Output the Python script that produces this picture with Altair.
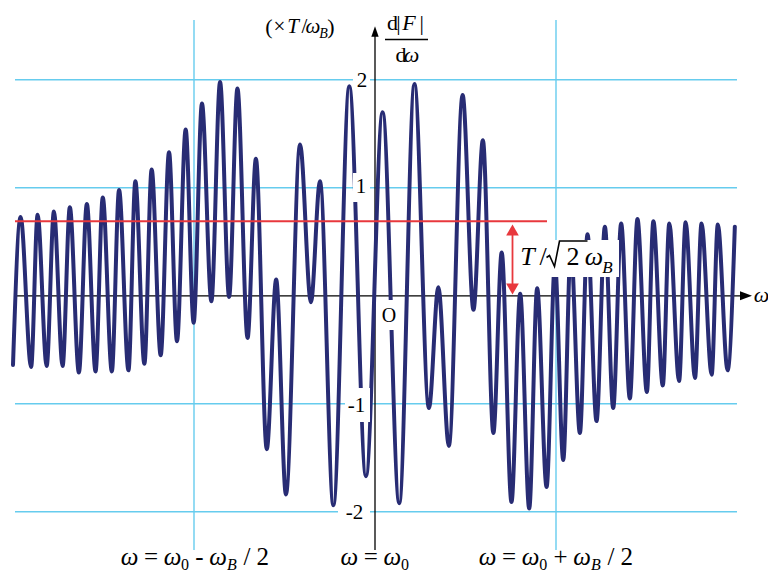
import altair as alt
import pandas as pd

# ---------------- data ----------------
# x: (omega - omega0) / omega_B ; y: d|F|/d omega in units of T/omega_B (successive extrema)
omega = [-1.000, -0.979, -0.950, -0.932, -0.907, -0.887, -0.863, -0.843, -0.818, -0.796,
         -0.772, -0.752, -0.727, -0.707, -0.681, -0.662, -0.637, -0.617, -0.592, -0.569,
         -0.547, -0.523, -0.501, -0.478, -0.452, -0.428, -0.403, -0.380, -0.352, -0.329,
         -0.299, -0.273, -0.246, -0.207, -0.177, -0.152, -0.115, -0.071, -0.025, 0.021,
         0.067, 0.109, 0.149, 0.175, 0.204, 0.242, 0.272, 0.298, 0.327, 0.350,
         0.377, 0.401, 0.426, 0.448, 0.474, 0.497, 0.520, 0.541, 0.566, 0.587,
         0.612, 0.635, 0.658, 0.680, 0.704, 0.725, 0.751, 0.769, 0.795, 0.813,
         0.840, 0.858, 0.884, 0.902, 0.930, 0.947, 0.974, 0.994]
dF = [-0.64, 0.73, -0.66, 0.75, -0.65, 0.78, -0.65, 0.82, -0.71, 0.85,
      -0.70, 0.91, -0.70, 0.98, -0.69, 1.06, -0.63, 1.17, -0.55, 1.33,
      -0.42, 1.54, -0.25, 1.78, -0.05, 1.98, -0.01, 1.92, -0.39, 1.27,
      -1.42, 0.15, -1.84, 1.40, -0.06, 1.06, -1.94, 1.94, -1.67, 1.70,
      -1.92, 1.96, -1.04, 0.08, -1.39, 1.86, -0.13, 1.44, -1.27, 0.40,
      -1.91, 0.02, -1.97, 0.07, -1.77, 0.30, -1.52, 0.45, -1.27, 0.57,
      -1.16, 0.64, -1.04, 0.67, -0.95, 0.71, -0.89, 0.69, -0.83, 0.67,
      -0.79, 0.68, -0.76, 0.67, -0.73, 0.66, -0.69, 0.64]

grid_y = [-2, -1, 1, 2]
grid_x = [-0.5, 0.5]
ref_level = 0.69          # T / (sqrt(2) omega_B)
tick_text = ["2", "1", "-1", "-2"]

# ---------------- layout helpers (page pixels -> data units) ----------------
X0, SX, Y0, SY = 375.0, 362.0, 295.8, 108.0
W, H = 760, 566
def ux(px):
    return (px - X0) / SX
def vy(py):
    return (Y0 - py) / SY

xs = alt.Scale(domain=[ux(8), ux(8 + W)], nice=False, zero=False)
ys = alt.Scale(domain=[vy(8 + H), vy(8)], nice=False, zero=False)
X = lambda f="x": alt.X(f"{f}:Q", scale=xs, axis=None)
Y = lambda f="y": alt.Y(f"{f}:Q", scale=ys, axis=None)

CYAN = "#66ccee"
NAVY = "#282c74"
RED = "#e8383d"
FONT = "Liberation Serif"

# grid lines
hgrid = alt.Chart(pd.DataFrame({"y": grid_y, "x": ux(15), "x2": ux(737)})).mark_rule(
    color=CYAN, strokeWidth=1.4).encode(y=Y(), x=X(), x2="x2:Q")
vgrid = alt.Chart(pd.DataFrame({"x": grid_x, "y": vy(20), "y2": vy(550)})).mark_rule(
    color=CYAN, strokeWidth=1.4).encode(x=X(), y=Y(), y2="y2:Q")

# axes
xaxis = alt.Chart(pd.DataFrame({"y": [0.0], "x": [ux(15)], "x2": [ux(742)]})).mark_rule(
    color="black", strokeWidth=1.3).encode(y=Y(), x=X(), x2="x2:Q")
yaxis = alt.Chart(pd.DataFrame({"x": [0.0], "y": [vy(550)], "y2": [vy(35)]})).mark_rule(
    color="black", strokeWidth=1.3).encode(x=X(), y=Y(), y2="y2:Q")
xhead = alt.Chart(pd.DataFrame({"x": [ux(746)], "y": [0.0]})).mark_point(
    shape="M-1,-0.75L1,0L-1,0.75Z", filled=True, size=144, color="black", opacity=1,
    strokeWidth=0).encode(x=X(), y=Y())
yhead = alt.Chart(pd.DataFrame({"x": [0.0], "y": [vy(31.5)]})).mark_point(
    shape="M-0.7,1L0,-1L0.7,1Z", filled=True, size=110, color="black", opacity=1,
    strokeWidth=0).encode(x=X(), y=Y())

# curve
curve = alt.Chart(pd.DataFrame({"x": omega, "y": dF})).mark_line(
    color=NAVY, strokeWidth=4, interpolate="monotone", strokeCap="round",
    strokeJoin="round").encode(x=X(), y=Y())

# red reference line and arrow
redline = alt.Chart(pd.DataFrame({"y": [ref_level], "x": [ux(15)], "x2": [ux(547)]})).mark_rule(
    color=RED, strokeWidth=2).encode(y=Y(), x=X(), x2="x2:Q")
ax = ux(512.5)
shaft = alt.Chart(pd.DataFrame({"x": [ax], "y": [vy(232)], "y2": [vy(288)]})).mark_rule(
    color=RED, strokeWidth=1.8).encode(x=X(), y=Y(), y2="y2:Q")
headup = alt.Chart(pd.DataFrame({"x": [ax], "y": [vy(230)]})).mark_point(
    shape="M-1,0.87L0,-0.87L1,0.87Z", filled=True, size=160, color=RED, opacity=1,
    strokeWidth=0).encode(x=X(), y=Y())
headdn = alt.Chart(pd.DataFrame({"x": [ax], "y": [vy(289)]})).mark_point(
    shape="M-1,-0.87L0,0.87L1,-0.87Z", filled=True, size=160, color=RED, opacity=1,
    strokeWidth=0).encode(x=X(), y=Y())

# white boxes behind labels
boxes_px = [(353, 370, 65, 95), (353, 370, 173, 202), (345, 370, 388, 422),
            (338, 370, 496, 527), (380, 399, 300, 330), (518, 619, 240, 277)]
boxes = pd.DataFrame({"x": [ux(b[0]) for b in boxes_px], "x2": [ux(b[1]) for b in boxes_px],
                      "y": [vy(b[2]) for b in boxes_px], "y2": [vy(b[3]) for b in boxes_px]})
white = alt.Chart(boxes).mark_rect(color="white").encode(x=X(), x2="x2:Q", y=Y(), y2="y2:Q")

# fraction bar
mrules = alt.Chart(pd.DataFrame({"y": [vy(39.5)], "x": [ux(385)], "x2": [ux(428)]})).mark_rule(
    color="black", strokeWidth=1.3).encode(y=Y(), x=X(), x2="x2:Q")

# radical sign drawn as a path
rad_px = [(546.5, 257.5), (549.5, 255.5), (554.5, 266.5), (559.5, 241), (587.5, 241)]
radical = alt.Chart(pd.DataFrame({"x": [ux(p[0]) for p in rad_px], "y": [vy(p[1]) for p in rad_px],
                                  "o": list(range(len(rad_px)))})).mark_line(
    color="black", strokeWidth=1.6, strokeJoin="miter").encode(x=X(), y=Y(), order="o:O")

# text tokens: (text, centre x px, baseline y px, size, italic)
MB, SB = 564.5, 570.0   # bottom label baselines (main, subscript)
toks = [
    ("(", 269, 34, 22, 0), ("×", 279.5, 33, 21, 0), ("T", 293, 33, 21, 1), ("/", 304.5, 33, 21, 0),
    ("ω", 313, 33, 21, 1), ("B", 323.5, 38, 14, 1), (")", 331, 34, 22, 0),
    ("d", 392.5, 30, 22, 0), ("|", 398.5, 30, 22, 0), ("F", 409, 30, 22, 1), ("|", 421.7, 30, 22, 0),
    ("d", 401, 61.5, 22, 0), ("ω", 411.5, 61.5, 22, 1),
    ("ω", 761.5, 302, 22, 1), ("O", 389, 322, 20, 0),
    (tick_text[0], 362, 86.5, 21, 0), (tick_text[1], 361, 192.5, 21, 0),
    (tick_text[2], 356.5, 411.5, 21, 0), (tick_text[3], 354.5, 518.5, 21, 0),
    ("T", 527.5, 265, 26, 1), ("/", 543, 265, 26, 0), ("2", 573, 265, 26, 0),
    ("ω", 594, 265, 26, 1), ("B", 607.5, 273, 17, 1),
    # bottom labels
    ("ω", 129.5, MB, 25, 1), ("=", 151, MB, 25, 0), ("ω", 172.5, MB, 25, 1), ("0", 185, SB, 16, 0),
    ("-", 199.5, MB, 25, 0), ("ω", 218, MB, 25, 1), ("B", 232, SB, 16, 1), ("/", 247, MB, 25, 0),
    ("2", 262.75, MB, 25, 0),
    ("ω", 349.25, MB, 25, 1), ("=", 370.75, MB, 25, 0), ("ω", 392.25, MB, 25, 1), ("0", 405, SB, 16, 0),
    ("ω", 487.5, MB, 25, 1), ("=", 509, MB, 25, 0), ("ω", 530.5, MB, 25, 1), ("0", 543.25, SB, 16, 0),
    ("+", 560.5, MB, 25, 0), ("ω", 582, MB, 25, 1), ("B", 596, SB, 16, 1), ("/", 611, MB, 25, 0),
    ("2", 626.75, MB, 25, 0),
]
tok = pd.DataFrame({"t": [t[0] for t in toks], "x": [ux(t[1]) for t in toks],
                    "y": [vy(t[2]) for t in toks], "s": [t[3] for t in toks],
                    "it": [t[4] for t in toks]})
tbase = alt.Chart(tok)
up_text = tbase.transform_filter("datum.it == 0").mark_text(
    font=FONT, align="center", baseline="alphabetic", color="black").encode(
    x=X(), y=Y(), text="t:N", size=alt.Size("s:Q", scale=None, legend=None))
it_text = tbase.transform_filter("datum.it == 1").mark_text(
    font=FONT, fontStyle="italic", align="center", baseline="alphabetic", color="black").encode(
    x=X(), y=Y(), text="t:N", size=alt.Size("s:Q", scale=None, legend=None))

chart = alt.layer(
    hgrid, vgrid, xaxis, yaxis, xhead, yhead, curve, redline, white, mrules, radical,
    up_text, it_text, shaft, headup, headdn
).properties(
    width=W, height=H, padding=0, autosize=alt.AutoSizeParams(type="none"),
    background="white"
).configure_view(stroke=None)

chart.save("out.html", embed_options={"renderer": "svg", "actions": False})
